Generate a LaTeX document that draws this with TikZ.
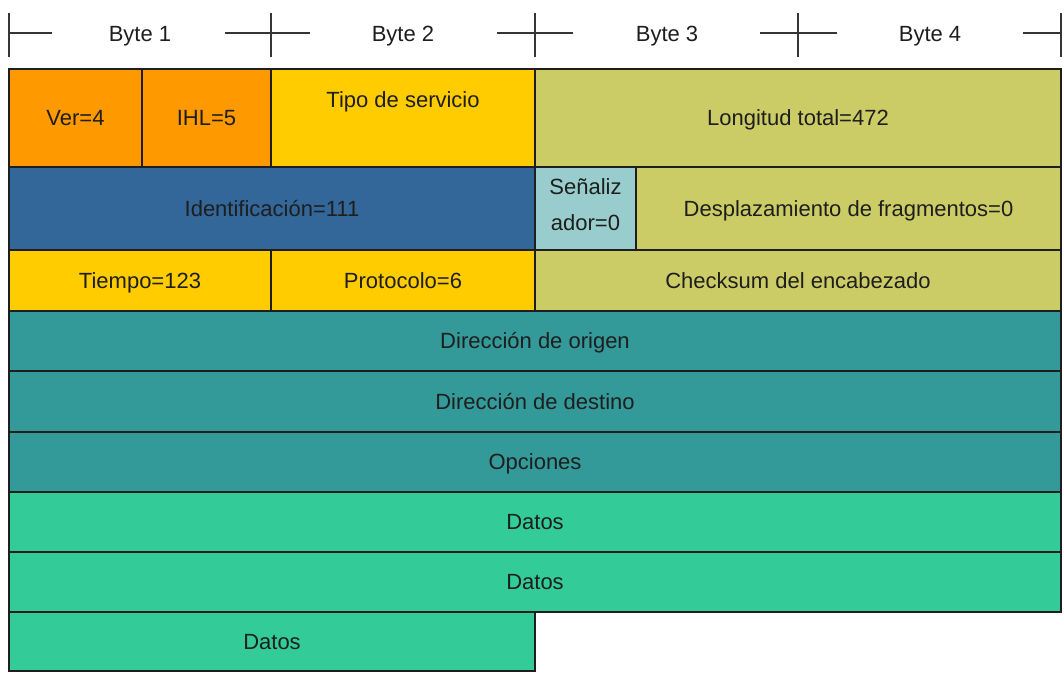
\documentclass[tikz,border=0pt]{standalone}
\usepackage{fontspec}
\setmainfont{Liberation Sans}
\usetikzlibrary{positioning}
\usepackage{xcolor}
\definecolor{hdrorange}{RGB}{255,153,0}
\definecolor{tosyellow}{RGB}{255,204,0}
\definecolor{lenolive}{RGB}{204,204,102}
\definecolor{idblue}{RGB}{51,102,153}
\definecolor{flagcyan}{RGB}{153,204,204}
\definecolor{addrteal}{RGB}{51,153,153}
\definecolor{datagreen}{RGB}{51,204,153}
\definecolor{inkdark}{RGB}{30,30,30}
\tikzstyle{field} = [rectangle, anchor=north west, inner sep=0pt, outer sep=0pt, draw=inkdark, line width=1.2pt, text=inkdark, font=\fontsize{22}{36}\selectfont, text height=15.5pt, text depth=0pt]
\tikzstyle{lbl} = [inner sep=0pt, outer sep=0pt, text=inkdark, font=\fontsize{22}{36}\selectfont]
\tikzstyle{ruler} = [line width=1.3pt, draw=inkdark!90]

\begin{document}
\begin{tikzpicture}[x=1pt, y=-1pt]
    \useasboundingbox (0,0) rectangle (1064,675);

    % Ruler
    \foreach \x in {9,271,535,798,1061}
        \draw [ruler] (\x,13) -- (\x,57);
    \draw [ruler] (9,33) -- (52,33);
    \draw [ruler] (225,33) -- (310,33);
    \draw [ruler] (497,33) -- (573,33);
    \draw [ruler] (760,33) -- (837,33);
    \draw [ruler] (1023,33) -- (1061,33);
    \node (byte1) [lbl, anchor=base] at (140,41) {Byte 1};
    \node (byte2) [lbl, anchor=base] at (403,41) {Byte 2};
    \node (byte3) [lbl, anchor=base] at (667,41) {Byte 3};
    \node (byte4) [lbl, anchor=base] at (930,41) {Byte 4};

    % Row 1
    \node (ver) [field, fill=hdrorange, minimum width=133, minimum height=98] at (9,69) {Ver=4};
    \node (ihl) [field, fill=hdrorange, minimum width=129, minimum height=98, right=0pt of ver] {IHL=5};
    \node (tos) [field, fill=tosyellow, minimum width=264, minimum height=98, right=0pt of ihl] {};
    \node (len) [field, fill=lenolive, minimum width=526, minimum height=98, right=0pt of tos] {Longitud total=472};
    \node (toslbl) [lbl, text height=15.5pt, text depth=0pt, below=23pt of tos.north] {Tipo de servicio};

    % Row 2
    \node (ident) [field, fill=idblue, minimum width=526, minimum height=83, below right=0pt of ver.south west] {Identificación=111};
    \node (flags) [field, fill=flagcyan, minimum width=101, minimum height=83, right=0pt of ident] {};
    \node (frag) [field, fill=lenolive, minimum width=425, minimum height=83, right=0pt of flags] {Desplazamiento de fragmentos=0};
    \node (flagslbl) [lbl, align=center, below=12pt of flags.north] {Señaliz\\ador=0};

    % Row 3
    \node (ttl) [field, fill=tosyellow, minimum width=262, minimum height=61, below right=0pt of ident.south west] {Tiempo=123};
    \node (proto) [field, fill=tosyellow, minimum width=264, minimum height=61, right=0pt of ttl] {Protocolo=6};
    \node (csum) [field, fill=lenolive, minimum width=526, minimum height=61, right=0pt of proto] {Checksum del encabezado};

    % Rows 4-9
    \node (src) [field, fill=addrteal, minimum width=1052, minimum height=60, below right=0pt of ttl.south west] {Dirección de origen};
    \node (dst) [field, fill=addrteal, minimum width=1052, minimum height=61, below right=0pt of src.south west] {Dirección de destino};
    \node (opt) [field, fill=addrteal, minimum width=1052, minimum height=60, below right=0pt of dst.south west] {Opciones};
    \node (data1) [field, fill=datagreen, minimum width=1052, minimum height=60, below right=0pt of opt.south west] {Datos};
    \node (data2) [field, fill=datagreen, minimum width=1052, minimum height=60, below right=0pt of data1.south west] {Datos};
    \node (data3) [field, fill=datagreen, minimum width=526, minimum height=59, below right=0pt of data2.south west] {Datos};
\end{tikzpicture}
\end{document}
